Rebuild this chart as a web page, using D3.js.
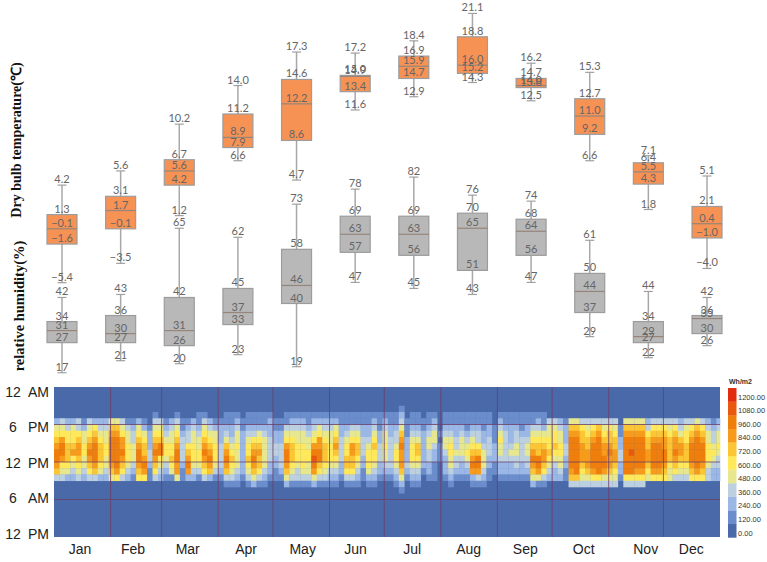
<!DOCTYPE html>
<html>
<head>
<meta charset="utf-8">
<script src="https://cdn.jsdelivr.net/npm/d3@7"></script>
<style>
  html, body { margin: 0; padding: 0; background: #fff; }
  svg { display: block; }
</style>
</head>
<body>
<div class="canvas"></div>
<script>
const months = ['Jan','Feb','Mar','Apr','May','Jun','Jul','Aug','Sep','Oct','Nov','Dec']

// dry bulb temperature
const tempMax = [4.2,5.6,10.2,14.0,17.3,17.2,18.4,21.1,16.2,15.3,7.1,5.1]
const tempQ3  = [1.3,3.1,6.7,11.2,14.6,15.0,16.9,18.8,14.7,12.7,6.4,2.1]
const tempMed = [-0.1,1.7,5.6,8.9,12.2,14.9,15.9,16.0,14.0,11.0,5.5,0.4]
const tempQ1  = [-1.6,-0.1,4.2,7.9,8.6,13.4,14.7,15.2,13.8,9.2,4.3,-1.0]
const tempMin = [-5.4,-3.5,1.2,6.6,4.7,11.6,12.9,14.3,12.5,6.6,1.8,-4.0]

// relative humidity
const rhMax = [42,43,65,62,73,78,82,76,74,61,44,42]
const rhQ3  = [34,36,42,45,58,69,69,70,68,50,34,36]
const rhMed = [31,30,31,37,46,63,63,65,64,44,29,35]
const rhQ1  = [27,27,26,33,40,57,56,51,56,37,27,30]
const rhMin = [17,21,20,23,19,47,45,43,47,29,22,26]

// solar radiation, one string per 3 days, hours 3 to 16 top to bottom,
// each char is a legend step (0 = 0.00 ... A = 1200.00)
const solarJanMar = [
  '00245678876300','00345788754300','00235566654200','00245567543200','00335677654300',
  '00124455443200','00345678765300','00256788876300','00234566654200','00234455443200',
  '00467888876400','00467888887500','00345778765300','00134455543200','00123344432100',
  '00245678876500','00124566787500','00012223321100','01345678765300','00345688543200',
  '00123455432100','00234455654100','01345678877400','00112333321100','00123356787200',
  '00234455543200','01123445543100','01345678765300','00234567876200','00124455543100'
]
const solarAprJun = [
  '00122233332100','01123467876310','01122345654310','01234454443210','00112222222100',
  '01123455654310','01123567876420','01124567665310','01123444443210','01222333322100',
  '00112233221100','00112233332100','01134578876420','01234566654310','01234455543310',
  '01234455554310','01123445544310','01234578987420','01245778865310','01234566654310',
  '01234455543210','01245676543210','01122333322100','01123455665310','01134577665310',
  '01134566543210','01122333221100','01122345554210','01234565543210','01112233322100'
]
const solarJunAug = [
  '01234454432100','01122333332100','01123345543210','12346787776421','00111222232100',
  '01123455543210','01123466543210','00112222221000','01123443322100','01234432211100',
  '00001011100000','01123443222100','01123455443210','01122334332100','01123444322100',
  '01112345432100','01123456787210','01123356887310','01112234443210','01122333221100',
  '00011122211000','01234544322100','01123333322100','01122234322100','01123344332100',
  '01112333322100','01122344332100','01134567876420','01234566887410','01124567765310'
]
const solarSepDec = [
  '00344556543200','00345565432200','00234455443200','00122233221100','00467888887630',
  '00467888888630','00356677765430','00345667776430','00356788887530','00367888888530',
  '00345677887430','00356678776430','00345667765430','00011223322100','00467888888530',
  '00467889888530','00467888887530','00467888887530','00235667765400','00356788887500',
  '00356788887500','00356778876500','00345666654400','00356778765300','00234677654300',
  '00345566654300','00356788876500','00467888887500','00356788876500','00234455543300',
  '00123345432200','00234454332200'
]
const solarColumns = [...solarJanMar, ...solarAprJun, ...solarJunAug, ...solarSepDec]

const legendValues = [0,120,240,360,480,600,720,840,960,1080,1200]
const legendColors = ['#4a69a9','#6b8dcb','#9ab7e6','#bdd0e0','#e6e78e','#ffe95b','#fbc534','#f79b1c','#ef7e0d','#e8590f','#e22c0e']
const monthDays = [31,28,31,30,31,30,31,31,30,31,30,31]
const monthLabelDays = [14,43,73,105,136,165,196,227,258,290,324,349]
const hourTicks = [0,6,12,18,24]
const hourLabels = ['12|AM','6|PM','12|PM','6|AM','12|PM']

const width = 767
const height = 562

const svg = d3.select('.canvas')
    .append('svg')
    .attr('width', width)
    .attr('height', height)

// box plots
const x = d3.scalePoint().domain(months).range([62, 707])
const yTemp = d3.scaleLinear().domain([0, 20]).range([227.8, 24.6])
const yRh = d3.scaleLinear().domain([0, 100]).range([423.9, 122.9])
const boxWidth = 30
const capWidth = 9

const drawBoxes = (name, y, maxs, q3s, meds, q1s, mins, fill, fmt) => {
    const rows = months.map((m, i) => ({ m, max: maxs[i], q3: q3s[i], med: meds[i], q1: q1s[i], min: mins[i] }))
    const g = svg.append('g').attr('class', name)
    const box = g.selectAll('g').data(rows).enter().append('g')

    // whisker
    box.append('line')
        .attr('x1', d => x(d.m)).attr('x2', d => x(d.m))
        .attr('y1', d => y(d.max)).attr('y2', d => y(d.min))
        .attr('stroke', '#a8a8a8').attr('stroke-width', 1.5)

    ;['max', 'min'].forEach(k => {
        box.append('line')
            .attr('x1', d => x(d.m) - capWidth / 2).attr('x2', d => x(d.m) + capWidth / 2)
            .attr('y1', d => y(d[k])).attr('y2', d => y(d[k]))
            .attr('stroke', '#a0a0a0').attr('stroke-width', 1.2)
    })

    box.append('rect')
        .attr('x', d => x(d.m) - boxWidth / 2)
        .attr('y', d => y(d.q3))
        .attr('width', boxWidth)
        .attr('height', d => y(d.q1) - y(d.q3))
        .attr('fill', fill)
        .attr('stroke', '#9c9c9c').attr('stroke-width', 1.2)

    box.append('line')
        .attr('x1', d => x(d.m) - boxWidth / 2).attr('x2', d => x(d.m) + boxWidth / 2)
        .attr('y1', d => y(d.med)).attr('y2', d => y(d.med))
        .attr('stroke', '#95857a').attr('stroke-width', 1.2)

    // every label sits just above its own line
    ;['max', 'q3', 'med', 'q1', 'min'].forEach(k => {
        box.append('text')
            .attr('x', d => x(d.m))
            .attr('y', d => y(d[k]) - 2)
            .attr('text-anchor', 'middle')
            .attr('font-family', 'Lato, sans-serif')
            .attr('font-size', 11)
            .attr('fill', '#666')
            .text(d => fmt(d[k]))
    })
}

drawBoxes('temp', yTemp, tempMax, tempQ3, tempMed, tempQ1, tempMin, '#f79255', d3.format('.1f'))
drawBoxes('rh', yRh, rhMax, rhQ3, rhMed, rhQ1, rhMin, '#b8b8b8', d3.format('d'))

// axis titles
const titles = [
    { text: 'Dry bulb temperature(℃)', x: 21, y: 140, size: 14 },
    { text: 'relative humidity(%)', x: 24, y: 306, size: 14.5 }
]
svg.selectAll('.title').data(titles).enter().append('text')
    .attr('class', 'title')
    .attr('transform', d => `translate(${d.x}, ${d.y}) rotate(-90)`)
    .attr('text-anchor', 'middle')
    .attr('font-family', '"Liberation Serif", serif')
    .attr('font-weight', 'bold')
    .attr('font-size', d => d.size)
    .attr('fill', '#111')
    .text(d => d.text)

// heat map
const day = d3.scaleLinear().domain([0, 365]).range([54, 720])
const hour = d3.scaleLinear().domain([0, 24]).range([387, 537])
const color = d3.scaleOrdinal().domain(d3.range(legendValues.length)).range(legendColors)
const stepDays = 3
const firstHour = 3

const heat = svg.append('g').attr('class', 'heat').style('filter', 'blur(0.5px)')

heat.append('rect')
    .attr('x', day(0)).attr('y', hour(0))
    .attr('width', day(365) - day(0)).attr('height', hour(24) - hour(0))
    .attr('fill', legendColors[0])

const cells = solarColumns.flatMap((col, i) =>
    col.split('').map((c, r) => ({ i, h: firstHour + r, level: parseInt(c, 16) })))

heat.selectAll('.cell').data(cells.filter(d => d.level > 0)).enter().append('rect')
    .attr('class', 'cell')
    .attr('x', d => day(d.i * stepDays))
    .attr('y', d => hour(d.h))
    .attr('width', d => day(Math.min((d.i + 1) * stepDays, 365)) - day(d.i * stepDays) + 0.3)
    .attr('height', hour(1) - hour(0) + 0.3)
    .attr('fill', d => color(d.level))

// month and hour grid
const monthEnds = d3.cumsum(monthDays).slice(0, -1)
svg.selectAll('.month-line').data(monthEnds).enter().append('line')
    .attr('class', 'month-line')
    .attr('x1', d => day(d)).attr('x2', d => day(d))
    .attr('y1', hour(0)).attr('y2', hour(24))
    .attr('stroke', '#6b3f68').attr('stroke-width', 0.8)

svg.selectAll('.hour-line').data([6, 12, 18]).enter().append('line')
    .attr('class', 'hour-line')
    .attr('x1', day(0)).attr('x2', day(365))
    .attr('y1', d => hour(d)).attr('y2', d => hour(d))
    .attr('stroke', '#6b3f68').attr('stroke-width', 0.8)

// month axis
const monthAxis = d3.axisBottom(day)
    .tickValues(monthLabelDays)
    .tickSize(0)
    .tickFormat((d, i) => months[i])

const monthGroup = svg.append('g')
    .attr('transform', `translate(0, ${hour(24) + 4})`)
    .call(monthAxis)
monthGroup.select('.domain').remove()
monthGroup.selectAll('text')
    .attr('font-family', '"Liberation Sans", Arial, sans-serif')
    .attr('font-size', 14)
    .attr('fill', '#222')

// hour labels, number and AM/PM set apart like the original
const hourLabelY = d3.scaleLinear().domain([0, 24]).range([392, 534])
const hourRows = hourTicks.map((h, i) => ({ h, num: hourLabels[i].split('|')[0], suffix: hourLabels[i].split('|')[1] }))
const hourGroup = svg.selectAll('.hour-label').data(hourRows).enter().append('g')
    .attr('class', 'hour-label')
    .attr('font-family', '"Liberation Sans", Arial, sans-serif')
    .attr('font-size', 14)
    .attr('fill', '#222')
hourGroup.append('text')
    .attr('x', 13).attr('y', d => hourLabelY(d.h)).attr('dy', '0.35em')
    .attr('text-anchor', 'middle')
    .text(d => d.num)
hourGroup.append('text')
    .attr('x', 49).attr('y', d => hourLabelY(d.h)).attr('dy', '0.35em')
    .attr('text-anchor', 'end')
    .text(d => d.suffix)

// colour legend
const legendBand = d3.scaleBand()
    .domain(legendValues)
    .range([537.5, 388])
const legend = svg.append('g').attr('class', 'legend')
legend.selectAll('rect').data(legendValues).enter().append('rect')
    .attr('x', 728)
    .attr('y', d => legendBand(d))
    .attr('width', 8.5)
    .attr('height', legendBand.bandwidth() + 0.2)
    .attr('fill', (d, i) => legendColors[i])
legend.selectAll('text').data(legendValues).enter().append('text')
    .attr('x', 738)
    .attr('y', d => legendBand(d) + legendBand.bandwidth() - 2)
    .attr('font-family', '"Liberation Sans", Arial, sans-serif')
    .attr('font-size', 7.5)
    .attr('fill', '#333')
    .text(d => d.toFixed(2))
legend.append('text')
    .attr('x', 729).attr('y', 384)
    .attr('font-family', '"Liberation Sans", Arial, sans-serif')
    .attr('font-size', 7)
    .attr('font-weight', 'bold')
    .attr('fill', '#333')
    .text('Wh/m2')
</script>
</body>
</html>
